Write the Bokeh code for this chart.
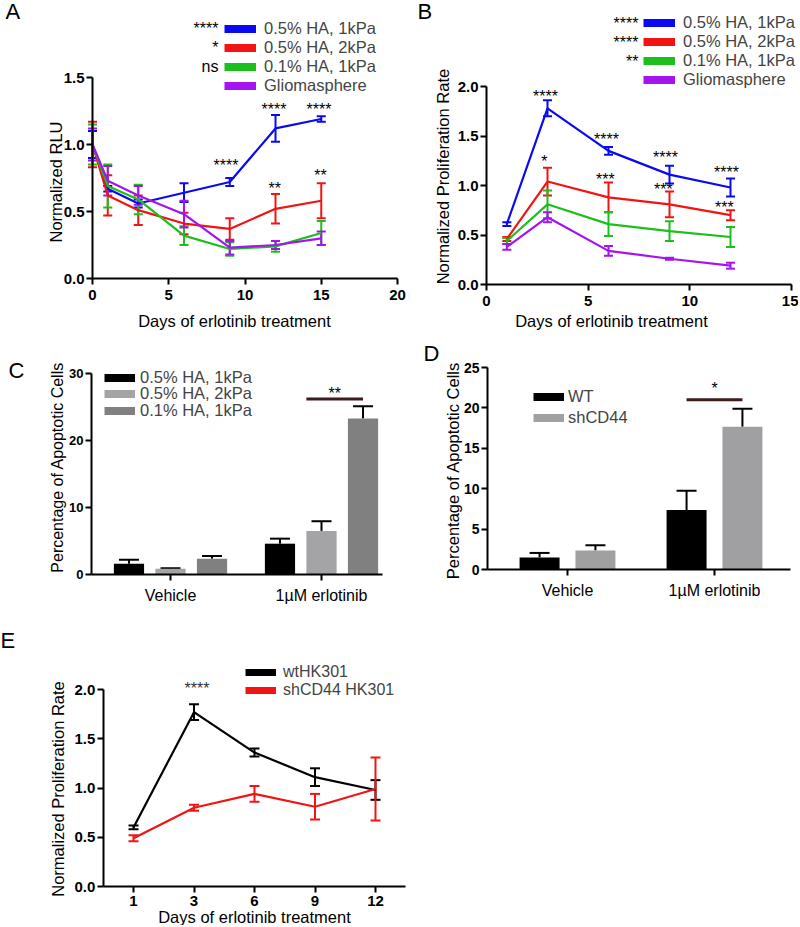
import math
from bokeh.plotting import figure
from bokeh.models import (Range1d, FixedTicker, NumeralTickFormatter, Whisker, TeeHead,
                          ColumnDataSource, Legend, LegendItem, Label)
from bokeh.layouts import column, row
from bokeh.embed import file_html
from bokeh.resources import INLINE
from bokeh.core.properties import value

FONT = "Liberation Sans"
NAN = float("nan")

# ---------------- data ----------------
# Panel A
days_A = [0, 1, 3, 6, 9, 12, 15]
names_AB = ["0.5% HA, 1kPa", "0.5% HA, 2kPa", "0.1% HA, 1kPa", "Gliomasphere"]
colors_AB = ["#0a0af2", "#f21414", "#1cbf1c", "#a314f0"]
A_ha05_1k = [1.00, 0.67, 0.56, 0.64, 0.72, 1.12, 1.19]
A_ha05_1k_err = [0.10, 0.02, 0.03, 0.07, 0.03, 0.10, 0.02]
A_ha05_2k = [1.00, 0.62, 0.51, 0.41, 0.37, 0.52, 0.58]
A_ha05_2k_err = [0.17, 0.15, 0.11, 0.08, 0.08, 0.11, 0.13]
A_ha01_1k = [1.00, 0.69, 0.59, 0.32, 0.22, 0.24, 0.34]
A_ha01_1k_err = [0.15, 0.16, 0.11, 0.07, 0.05, 0.04, 0.09]
A_glioma = [1.00, 0.73, 0.62, 0.48, 0.23, 0.25, 0.30]
A_glioma_err = [0.12, 0.11, 0.07, 0.10, 0.05, 0.03, 0.05]
A_legend_sig = ["****", "*", "ns", ""]
A_ann_x = [8.75, 11.9, 14.85, 11.95, 14.95]
A_ann_y = [0.84, 1.26, 1.26, 0.67, 0.77]
A_ann_text = ["****", "****", "****", "**", "**"]
A_xticks = [0, 5, 10, 15, 20]
A_yticks = [0, 0.5, 1.0, 1.5]

# Panel B
days_B = [1, 3, 6, 9, 12]
B_ha05_1k = [0.61, 1.78, 1.35, 1.11, 0.98]
B_ha05_1k_err = [0.02, 0.08, 0.04, 0.09, 0.09]
B_ha05_2k = [0.46, 1.04, 0.88, 0.81, 0.70]
B_ha05_2k_err = [0.02, 0.14, 0.15, 0.13, 0.05]
B_ha01_1k = [0.44, 0.81, 0.61, 0.54, 0.48]
B_ha01_1k_err = [0.03, 0.14, 0.12, 0.10, 0.10]
B_glioma = [0.38, 0.68, 0.34, 0.26, 0.19]
B_glioma_err = [0.03, 0.05, 0.05, 0.01, 0.03]
B_legend_sig = ["****", "****", "**", ""]
B_ann_x = [2.9, 2.85, 5.9, 5.85, 8.8, 8.7, 11.8, 11.7]
B_ann_y = [1.90, 1.24, 1.46, 1.06, 1.28, 0.96, 1.13, 0.78]
B_ann_text = ["****", "*", "****", "***", "****", "***", "****", "***"]
B_xticks = [0, 5, 10, 15]
B_yticks = [0, 0.5, 1.0, 1.5, 2.0]

# Panel C
groups_CD = ["Vehicle", "1µM erlotinib"]
names_C = ["0.5% HA, 1kPa", "0.5% HA, 2kPa", "0.1% HA, 1kPa"]
colors_C = ["#000000", "#a4a4a6", "#808080"]
C_ha05_1k = [1.6, 4.6]
C_ha05_1k_err = [0.6, 0.75]
C_ha05_2k = [0.85, 6.5]
C_ha05_2k_err = [0.1, 1.45]
C_ha01_1k = [2.35, 23.3]
C_ha01_1k_err = [0.4, 1.8]
C_sig_y = 26.2
C_sig_text_y = 27.0
C_sig_text = "**"
C_yticks = [0, 10, 20, 30]

# Panel D
names_D = ["WT", "shCD44"]
colors_D = ["#000000", "#a0a0a2"]
D_wt = [1.5, 7.35]
D_wt_err = [0.55, 2.4]
D_sh = [2.35, 17.66]
D_sh_err = [0.65, 2.25]
D_sig_y = 21.0
D_sig_text_y = 22.4
D_sig_text = "*"
D_yticks = [0, 5, 10, 15, 20, 25]

# Panel E
days_E = ["1", "3", "6", "9", "12"]
names_E = ["wtHK301", "shCD44 HK301"]
colors_E = ["#000000", "#f21414"]
E_wt = [0.60, 1.77, 1.36, 1.11, 0.98]
E_wt_err = [0.02, 0.08, 0.04, 0.09, 0.10]
E_sh = [0.49, 0.80, 0.94, 0.81, 0.99]
E_sh_err = [0.03, 0.03, 0.08, 0.13, 0.32]
E_ann_x = [1.05]
E_ann_y = [2.01]
E_ann_text = ["****"]
E_yticks = [0, 0.5, 1.0, 1.5, 2.0]


# ---------------- helpers ----------------
def x_range_px(v0, p0, v1, p1, size):
    s = (p1 - p0) / (v1 - v0)
    return Range1d(v0 - p0 / s, v0 + (size - p0) / s)


def y_range_px(v0, p0, v1, p1, size):
    s = (p0 - p1) / (v1 - v0)
    return Range1d(v0 - (size - p0) / s, v0 + p0 / s)


def base_fig(w, h, xr, yr, xb, yb, tick_size="15px"):
    p = figure(width=w, height=h, x_range=xr, y_range=yr, title=None,
               output_backend="svg", toolbar_location=None, min_border=0,
               min_border_left=0, min_border_right=0, min_border_top=0, min_border_bottom=0)
    p.outline_line_color = None
    p.grid.visible = False
    for ax in (p.xaxis[0], p.yaxis[0]):
        ax.axis_line_width = 2
        ax.axis_line_color = "black"
        ax.major_tick_line_width = 2
        ax.major_tick_line_color = "black"
        ax.major_tick_in = 0
        ax.major_tick_out = 6
        ax.minor_tick_line_color = None
        ax.major_label_text_font = FONT
        ax.major_label_text_font_style = "bold"
        ax.major_label_text_font_size = tick_size
        ax.major_label_text_color = "black"
    p.xaxis.bounds = xb
    p.yaxis.bounds = yb
    p.xaxis.fixed_location = yb[0]
    p.yaxis.fixed_location = xb[0]
    p.yaxis.major_label_standoff = 2
    p.xaxis.major_label_standoff = 5
    return p


def add_label(p, text, x, y, xu, yu, size="16.5px", angle=0.0, align="center",
              baseline="middle", color="black"):
    p.add_layout(Label(x=x, y=y, x_units=xu, y_units=yu, text=text, angle=angle,
                       text_align=align, text_baseline=baseline, text_font=FONT,
                       text_font_size=size, text_color=color))


def add_series(p, xs, ys, errs, color, cap=9, lw=2.2):
    src = ColumnDataSource(dict(x=xs, y=ys,
                                lower=[a - e for a, e in zip(ys, errs)],
                                upper=[a + e for a, e in zip(ys, errs)]))
    p.add_layout(Whisker(source=src, base="x", lower="lower", upper="upper",
                         line_color=color, line_width=2,
                         upper_head=TeeHead(size=cap, line_color=color, line_width=2),
                         lower_head=TeeHead(size=cap, line_color=color, line_width=2)))
    p.line("x", "y", source=src, line_color=color, line_width=lw)


def add_bars(p, xs, tops, errs, color, width):
    src = ColumnDataSource(dict(x=xs, top=tops,
                                upper=[a + e for a, e in zip(tops, errs)]))
    p.vbar(x="x", top="top", width=width, source=src, fill_color=color, line_color=None)
    p.add_layout(Whisker(source=src, base="x", lower="top", upper="upper",
                         line_color="black", line_width=2, lower_head=None,
                         upper_head=TeeHead(size=20, line_color="black", line_width=2)))


def add_legend(p, names, colors, loc, gh, thick, size, standoff, gw=32):
    items = []
    for n, c in zip(names, colors):
        r = p.line(x=[NAN], y=[NAN], line_color=c, line_width=thick)
        items.append(LegendItem(label=n, renderers=[r]))
    p.add_layout(Legend(items=items, location=loc, orientation="vertical",
                        padding=0, margin=0, spacing=0,
                        glyph_width=gw, glyph_height=gh, label_height=gh,
                        label_standoff=standoff, label_text_font=FONT,
                        label_text_font_size=size, border_line_color=None,
                        background_fill_alpha=0))


def add_stars(p, xs, ys, texts, size="16px", color="black"):
    src = ColumnDataSource(dict(x=xs, y=ys, t=texts))
    p.text(x="x", y="y", text="t", source=src, text_font=value(FONT),
           text_font_size=size, text_align="center", text_baseline="alphabetic",
           text_color=color)


def panel_letter(p, letter, x, y):
    add_label(p, letter, x, y, "screen", "screen", size="22px", align="left", baseline="middle")


# ---------------- Panel A (412 x 332) ----------------
WA, HA = 412, 332
pA = base_fig(WA, HA, x_range_px(0, 92, 20, 397, WA), y_range_px(0, 278, 1.5, 77, HA),
              (A_xticks[0], A_xticks[-1]), (A_yticks[0], A_yticks[-1]))
pA.xaxis.ticker = FixedTicker(ticks=A_xticks)
pA.yaxis.ticker = FixedTicker(ticks=A_yticks)
pA.yaxis.formatter = NumeralTickFormatter(format="0.0")
for ys, es, c in zip([A_ha05_1k, A_ha05_2k, A_ha01_1k, A_glioma],
                     [A_ha05_1k_err, A_ha05_2k_err, A_ha01_1k_err, A_glioma_err], colors_AB):
    add_series(pA, days_A, ys, es, c)
add_stars(pA, A_ann_x, A_ann_y, A_ann_text)
leg_bottom = HA - 94.5
add_legend(pA, names_AB, colors_AB, (224, leg_bottom), 19, 8, "16.5px", 8)
for i, s in enumerate(A_legend_sig):
    if s:
        add_label(pA, s, 218, leg_bottom + (len(A_legend_sig) - i - 0.5) * 19, "screen", "screen",
                  size="16px", align="right")
add_label(pA, "Normalized RLU", 55, 0.72, "screen", "data", angle=math.pi / 2)
add_label(pA, "Days of erlotinib treatment", 234, HA - 320, "screen", "screen")
panel_letter(pA, "A", 5, HA - 11)

# ---------------- Panel B (386 x 332) ----------------
WB, HB = 386, 332
pB = base_fig(WB, HB, x_range_px(0, 74, 15, 379, WB), y_range_px(0, 284, 2.0, 86, HB),
              (B_xticks[0], B_xticks[-1]), (B_yticks[0], B_yticks[-1]))
pB.xaxis.ticker = FixedTicker(ticks=B_xticks)
pB.yaxis.ticker = FixedTicker(ticks=B_yticks)
pB.yaxis.formatter = NumeralTickFormatter(format="0.0")
for ys, es, c in zip([B_ha05_1k, B_ha05_2k, B_ha01_1k, B_glioma],
                     [B_ha05_1k_err, B_ha05_2k_err, B_ha01_1k_err, B_glioma_err], colors_AB):
    add_series(pB, days_B, ys, es, c)
add_stars(pB, B_ann_x, B_ann_y, B_ann_text)
leg_bottom = HB - 89.2
add_legend(pB, names_AB, colors_AB, (231, leg_bottom), 19, 8, "16.5px", 8)
for i, s in enumerate(B_legend_sig):
    if s:
        add_label(pB, s, 226, leg_bottom + (len(B_legend_sig) - i - 0.5) * 19, "screen", "screen",
                  size="16px", align="right")
add_label(pB, "Normalized Proliferation Rate", 30, 1.09, "screen", "data", angle=math.pi / 2)
add_label(pB, "Days of erlotinib treatment", 199, HB - 320, "screen", "screen")
panel_letter(pB, "B", 5, HB - 11)

# ---------------- Panel C (400 x 276) ----------------
WC, HC = 400, 276
C_pos = list(range(len(groups_CD)))
C_off = [-0.275, 0.0, 0.275]
C_w = 0.2
xrC = x_range_px(0, 170, 1, 321, WC)
C_xb = ((91 - 170) / 151.0, (382 - 170) / 151.0)
pC = base_fig(WC, HC, xrC, y_range_px(0, 242, 30, 41, HC), C_xb,
              (C_yticks[0], C_yticks[-1]), tick_size="13px")
pC.xaxis.ticker = FixedTicker(ticks=C_pos)
pC.xaxis.major_label_overrides = {i: g for i, g in enumerate(groups_CD)}
pC.xaxis.major_label_text_font_style = "normal"
pC.xaxis.major_label_text_font_size = "16px"
pC.xaxis.major_label_standoff = 6
pC.yaxis.ticker = FixedTicker(ticks=C_yticks)
for ys, es, c, o in zip([C_ha05_1k, C_ha05_2k, C_ha01_1k],
                        [C_ha05_1k_err, C_ha05_2k_err, C_ha01_1k_err], colors_C, C_off):
    add_bars(pC, [x + o for x in C_pos], ys, es, c, C_w)
pC.segment(x0=[C_pos[1] + C_off[1] - C_w / 2], x1=[C_pos[1] + C_off[2]],
           y0=[C_sig_y], y1=[C_sig_y], line_color="#3b1c1c", line_width=3)
add_stars(pC, [C_pos[1] + (C_off[1] - C_w / 2 + C_off[2]) / 2], [C_sig_text_y], [C_sig_text])
for i, (n, c) in enumerate(zip(names_C, colors_C)):
    row_center = [45.7, 61.3, 78.0][i]
    add_legend(pC, [n], [c], (104, HC - row_center - 9.5), 19, 8, "16.5px", 5, gw=31)
add_label(pC, "Percentage of Apoptotic Cells", 57, 16.0, "screen", "data", size="16px",
          angle=math.pi / 2)
panel_letter(pC, "C", 8, HC - 38)

# ---------------- Panel D (398 x 276) ----------------
WD, HD = 398, 276
D_pos = list(range(len(groups_CD)))
D_off = [-0.19, 0.19]
D_w = 0.272
D_xb = ((87 - 167) / 147.0, (390 - 167) / 147.0)
pD = base_fig(WD, HD, x_range_px(0, 167, 1, 314, WD), y_range_px(0, 237, 25, 35, HD), D_xb,
              (D_yticks[0], D_yticks[-1]), tick_size="14px")
pD.xaxis.ticker = FixedTicker(ticks=D_pos)
pD.xaxis.major_label_overrides = {i: g for i, g in enumerate(groups_CD)}
pD.xaxis.major_label_text_font_style = "normal"
pD.xaxis.major_label_text_font_size = "16px"
pD.xaxis.major_label_standoff = 6
pD.yaxis.ticker = FixedTicker(ticks=D_yticks)
for ys, es, c, o in zip([D_wt, D_sh], [D_wt_err, D_sh_err], colors_D, D_off):
    add_bars(pD, [x + o for x in D_pos], ys, es, c, D_w)
pD.segment(x0=[D_pos[1] + D_off[0]], x1=[D_pos[1] + D_off[1]],
           y0=[D_sig_y], y1=[D_sig_y], line_color="#3b1c1c", line_width=3)
add_stars(pD, [D_pos[1]], [D_sig_text_y], [D_sig_text])
add_legend(pD, names_D, colors_D, (133, HD - 95.5), 21, 8, "16.5px", 4, gw=31)
add_label(pD, "Percentage of Apoptotic Cells", 52, 12.25, "screen", "data", angle=math.pi / 2)
panel_letter(pD, "D", 23, HD - 21)

# ---------------- Panel E (798 x 317) ----------------
WE, HE = 798, 317
E_pos = list(range(len(days_E)))
pE = base_fig(WE, HE, x_range_px(0, 133, 4, 375, WE), y_range_px(0, 278, 2.0, 81, HE),
              (-0.5, len(days_E) - 0.5), (E_yticks[0], E_yticks[-1]))
pE.xaxis.ticker = FixedTicker(ticks=E_pos)
pE.xaxis.major_label_overrides = {i: d for i, d in enumerate(days_E)}
pE.xaxis.major_label_standoff = 3
pE.yaxis.ticker = FixedTicker(ticks=E_yticks)
pE.yaxis.formatter = NumeralTickFormatter(format="0.0")
add_series(pE, E_pos, E_wt, E_wt_err, colors_E[0], cap=10)
add_series(pE, E_pos, E_sh, E_sh_err, colors_E[1], cap=10)
add_stars(pE, E_ann_x, E_ann_y, E_ann_text, color="#333333")
add_legend(pE, names_E, colors_E, (245, HE - 91), 18, 7, "16px", 7, gw=31)
add_label(pE, "Normalized Proliferation Rate", 57, 0.99, "screen", "data", angle=math.pi / 2)
add_label(pE, "Days of erlotinib treatment", 254, HE - 308, "screen", "screen")
panel_letter(pE, "E", 0, HE - 32)

layout = column(row(pA, pB), row(pC, pD), pE)
open("out.html", "w").write(file_html(layout, INLINE))
